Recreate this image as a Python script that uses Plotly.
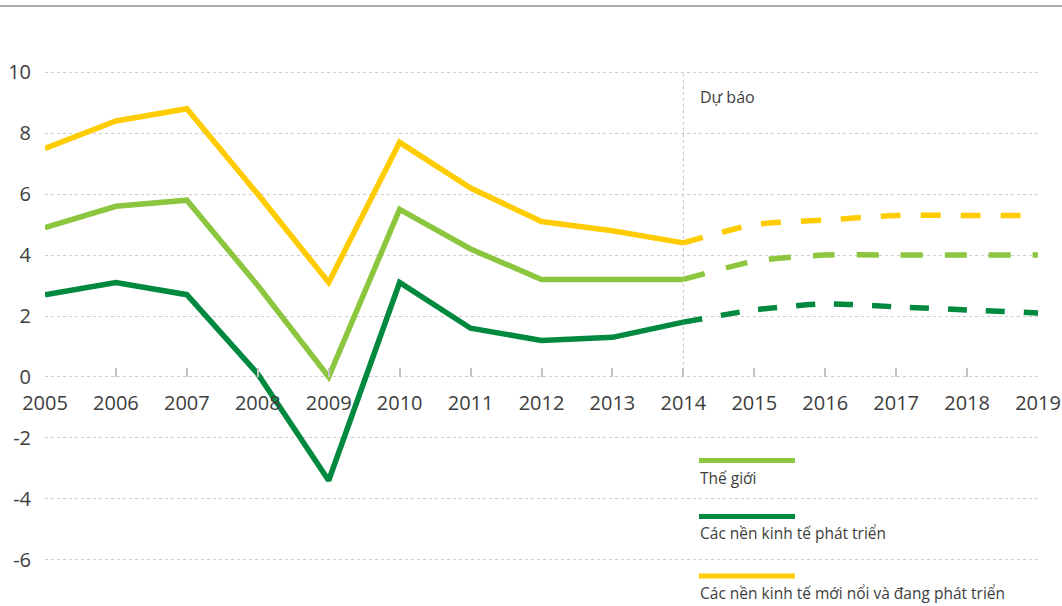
import plotly.graph_objects as go

# ---------------- data ----------------
years_hist = [2005, 2006, 2007, 2008, 2009, 2010, 2011, 2012, 2013, 2014]
years_fc = [2014, 2015, 2016, 2017, 2018, 2019]

world_hist = [4.9, 5.6, 5.8, 3.0, 0.0, 5.5, 4.2, 3.2, 3.2, 3.2]
world_fc = [3.2, 3.8, 4.0, 4.0, 4.0, 4.0]

adv_hist = [2.7, 3.1, 2.7, 0.1, -3.4, 3.1, 1.6, 1.2, 1.3, 1.8]
adv_fc = [1.8, 2.2, 2.4, 2.3, 2.2, 2.1]

emg_hist = [7.5, 8.4, 8.8, 6.0, 3.1, 7.7, 6.2, 5.1, 4.8, 4.4]
emg_fc = [4.4, 5.0, 5.15, 5.3, 5.3, 5.3]

series_names = ["Thế giới", "Các nền kinh tế phát triển",
                "Các nền kinh tế mới nổi và đang phát triển"]
series_colors = ["#8CC63F", "#00893F", "#FFCC00"]

x_tickvals = list(range(2005, 2020))
x_ticktext = [str(v) for v in x_tickvals]
y_tickvals = [10, 8, 6, 4, 2, 0, -2, -4, -6]
y_ticktext = ["10", "8", "6", "4", "2", "0", "-2", "-4", "-6"]
forecast_label = "Dự báo"

# ---------------- layout geometry ----------------
W, H = 1062, 606
L, R, T, B = 45, 24, 57, 31
PW, PH = W - L - R, H - T - B
Y_RANGE = [-6.5, 10.5]
FONT = "Open Sans"
TXT = "#3d3d3d"


def px_x(p):
    return (p - L) / PW


def px_y(p):
    return (H - B - p) / PH


fig = go.Figure()

hist = [world_hist, adv_hist, emg_hist]
fc = [world_fc, adv_fc, emg_fc]
dashes = ["22px,22px", "19px,19px", "20px,20px"]

# draw order: emerging, world, advanced (advanced on top)
for i in [2, 0, 1]:
    fig.add_trace(go.Scatter(
        x=years_hist, y=hist[i], mode="lines", name=series_names[i],
        line=dict(color=series_colors[i], width=5.5), showlegend=False,
        hoverinfo="skip"))
    fig.add_trace(go.Scatter(
        x=years_fc, y=fc[i], mode="lines", name=series_names[i],
        line=dict(color=series_colors[i], width=5.5, dash=dashes[i],
                  shape="spline", smoothing=0.6),
        showlegend=False, hoverinfo="skip"))

zero_pos = (0 - Y_RANGE[0]) / (Y_RANGE[1] - Y_RANGE[0])

fig.update_layout(
    width=W, height=H,
    margin=dict(l=L, r=R, t=T, b=B, autoexpand=False),
    paper_bgcolor="white", plot_bgcolor="white",
    font=dict(family=FONT, color=TXT),
    xaxis=dict(range=[2005, 2019], tickvals=x_tickvals, ticktext=x_ticktext,
               showgrid=False, zeroline=False, showline=False,
               anchor="free", position=zero_pos, automargin=False,
               ticks="inside", ticklen=9, tickwidth=2, tickcolor="#c4c4c4",
               ticklabelstandoff=12,
               tickfont=dict(size=20, color=TXT, family=FONT)),
    yaxis=dict(range=Y_RANGE, tickvals=y_tickvals, ticktext=y_ticktext,
               showgrid=True, gridcolor="#cccccc", griddash="dot", gridwidth=1,
               zeroline=False, showline=False, ticks="", automargin=False,
               ticklabelstandoff=13,
               tickfont=dict(size=20, color=TXT, family=FONT)),
)

# top rule
fig.add_shape(type="line", xref="paper", yref="paper",
              x0=px_x(0), x1=px_x(W), y0=px_y(6), y1=px_y(6),
              line=dict(color="#ababab", width=2))

# forecast divider
fig.add_shape(type="line", xref="x", yref="y",
              x0=2014, x1=2014, y0=0, y1=10,
              line=dict(color="#c4c4c4", width=1, dash="dot"), layer="below")
fig.add_annotation(x=2014, y=px_y(97), yref="paper", xref="x",
                   text=forecast_label, showarrow=False,
                   xanchor="left", yanchor="middle", xshift=15,
                   font=dict(size=16, color=TXT, family=FONT))

# custom legend: swatch above label
sw_y = [460.5, 516.5, 576]
lab_y = [478, 533, 593]
for i in range(3):
    fig.add_shape(type="line", xref="paper", yref="paper",
                  x0=px_x(699), x1=px_x(795), y0=px_y(sw_y[i]), y1=px_y(sw_y[i]),
                  line=dict(color=series_colors[i], width=5))
    fig.add_annotation(x=px_x(698), y=px_y(lab_y[i]), xref="paper", yref="paper",
                       text=series_names[i], showarrow=False,
                       xanchor="left", yanchor="middle",
                       font=dict(size=15.5, color=TXT, family=FONT))

fig.write_html("out.html", config={"displayModeBar": False},
               post_script="document.body.style.margin='0px';"
                           "document.body.style.overflow='hidden';")
